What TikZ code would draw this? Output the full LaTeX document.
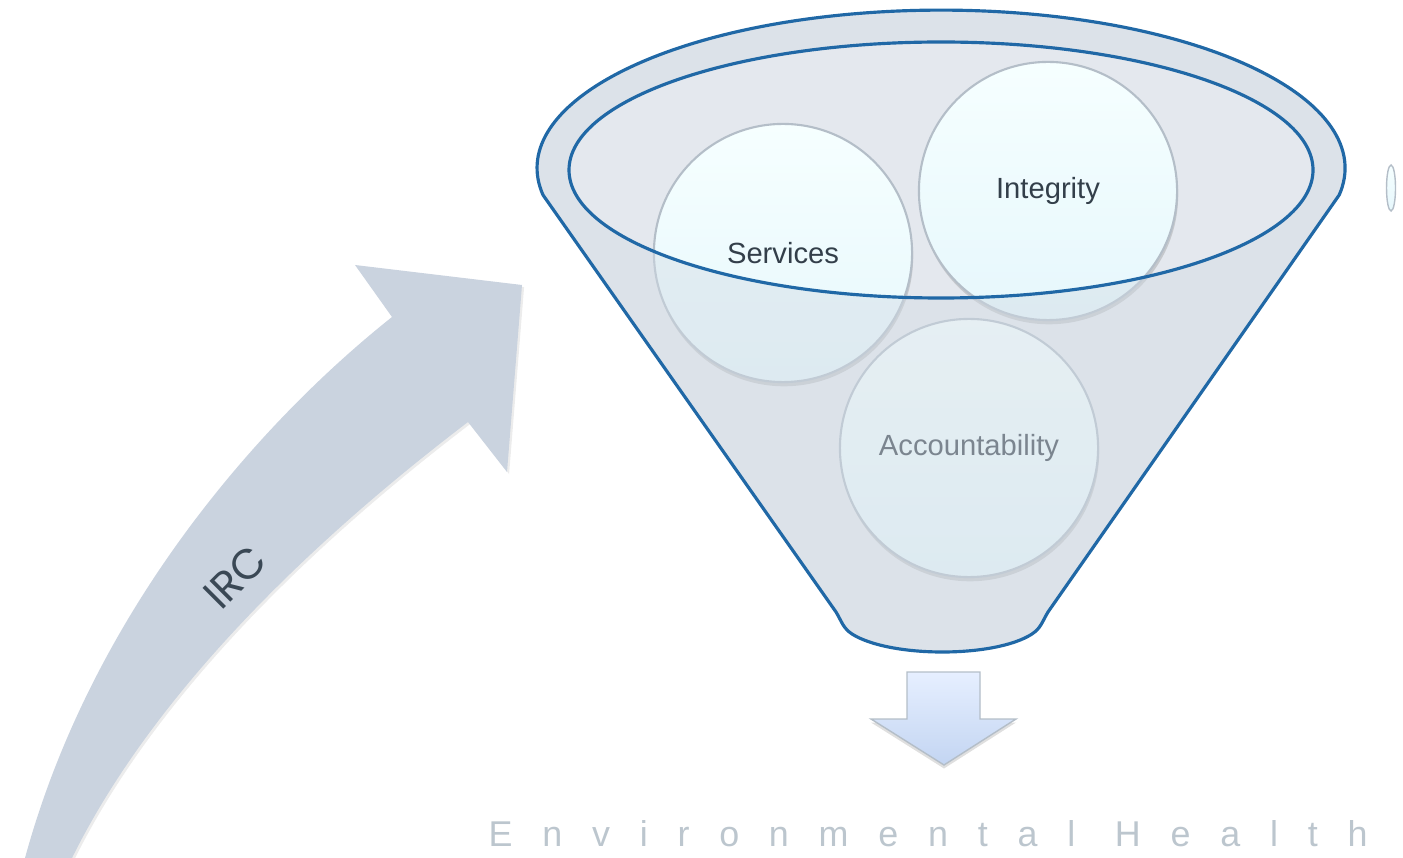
\documentclass[tikz,border=0pt]{standalone}
\usepackage{fontspec}
\setmainfont{Liberation Sans}
\newfontfamily\geofont{Poppins}
\usetikzlibrary{shadows}
\definecolor{funnelline}{HTML}{2068A6}
\definecolor{funnelbase}{HTML}{E4E8EE}
\definecolor{funneltint}{HTML}{D3DCE5}
\definecolor{balltop}{HTML}{F6FFFF}
\definecolor{ballbot}{HTML}{E6F7FC}
\definecolor{ballrim}{HTML}{B4BEC8}
\definecolor{balltext}{HTML}{333F4A}
\definecolor{ircfill}{HTML}{CAD3DF}
\definecolor{irctext}{HTML}{3A4855}
\definecolor{arrowtop}{HTML}{E6EFFF}
\definecolor{arrowbot}{HTML}{C3D5F2}
\definecolor{envtext}{HTML}{BCC6CE}

\tikzset{
  ball/.style={circle, minimum size=2.58cm, inner sep=0pt, top color=balltop, bottom color=ballbot,
    draw=ballrim, line width=0.6pt, drop shadow={opacity=0.3, shadow xshift=0.3pt, shadow yshift=-1.2pt},
    font=\fontsize{8.3}{10}\selectfont, text=balltext},
  bigarrow/.style={fill=ircfill, drop shadow={opacity=0.15, shadow xshift=0.6pt, shadow yshift=-0.6pt}}
}

\begin{document}
\begin{tikzpicture}[x=0.01cm, y=0.01cm]
\useasboundingbox (0,0) rectangle (1403,-858);
% curved arrow
\path[bigarrow] (25,-858) .. controls (90,-620) and (250,-430) .. (392,-317) -- (355,-265) -- (522,-285)
  -- (507,-472) -- (468,-422) .. controls (300,-550) and (150,-700) .. (72,-858) -- cycle;
\node[rotate=45, text=irctext, font=\geofont\fontsize{12}{14}\selectfont] (irc) at (235,-577) {IRC};
% funnel
\fill[funnelbase] (543,-195) arc[start angle=189.8, end angle=-9.8, x radius=404, y radius=158] -- (1048,-612)
  .. controls (1042,-622) and (1041,-628) .. (1032,-634) .. controls (995,-658) and (890,-658) .. (852,-634)
  .. controls (843,-628) and (842,-622) .. (836,-612) -- cycle;
\node[ball] (services) at (783,-253) {Services};
\node[ball] (integrity) at (1048,-191) {Integrity};
\node[ball] (account) at (969,-448) {Accountability};
\path[fill=funneltint, fill opacity=0.45, draw=funnelline, line width=0.9pt, even odd rule]
  (543,-195) arc[start angle=189.8, end angle=-9.8, x radius=404, y radius=158] -- (1048,-612)
  .. controls (1042,-622) and (1041,-628) .. (1032,-634) .. controls (995,-658) and (890,-658) .. (852,-634)
  .. controls (843,-628) and (842,-622) .. (836,-612) -- cycle
  (941,-170) ellipse [x radius=372, y radius=128];
\path[top color=balltop, bottom color=ballbot, draw=ballrim, line width=0.4pt] (1391,-188) ellipse [x radius=4.5, y radius=23];
% down arrow
\path[top color=arrowtop, bottom color=arrowbot, draw=ballrim, line width=0.4pt,
  drop shadow={opacity=0.25, shadow xshift=0pt, shadow yshift=-1pt}]
  (907,-672) -- (980,-672) -- (980,-719) -- (1016,-719) -- (944,-765) -- (871,-719) -- (907,-719) -- cycle;
\node[anchor=base west, inner sep=0pt, text=envtext, font=\addfontfeature{LetterSpace=83}\fontsize{10.2}{12}\selectfont] (env) at (488,-846) {Environmental Health};
\end{tikzpicture}
\end{document}
